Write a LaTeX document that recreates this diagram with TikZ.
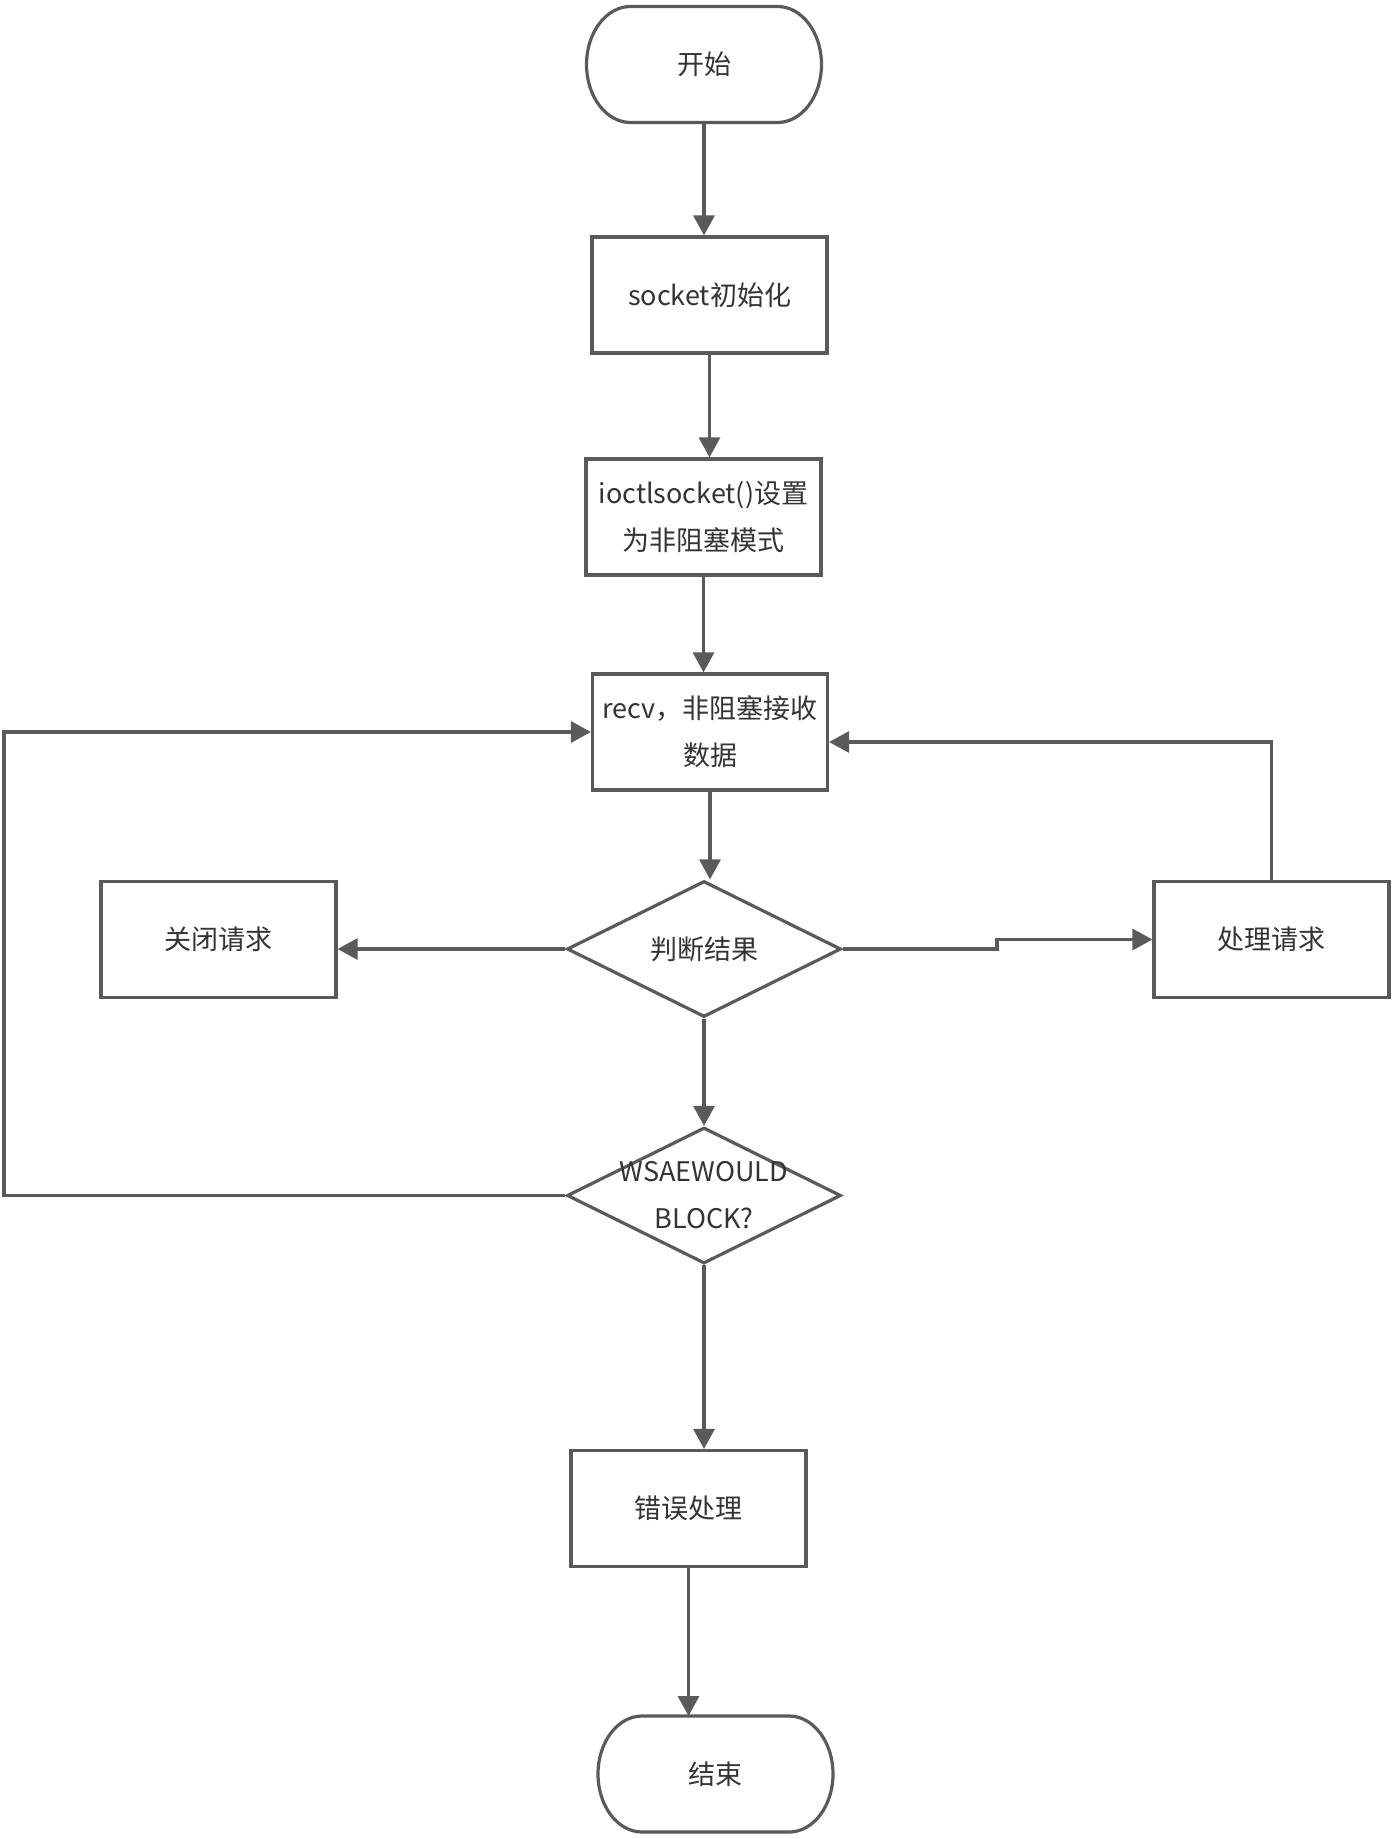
\documentclass[tikz,border=0pt]{standalone}
\usepackage{fontspec}
\setmainfont{Noto Sans CJK SC}
\usetikzlibrary{arrows.meta,shapes.geometric,calc}
\definecolor{lnc}{HTML}{5A5A5A}
\definecolor{txc}{HTML}{333333}
\newcommand\termoutline[1]{%
  \draw[line] ([xshift=22pt]#1.north west) -- ([xshift=-22pt]#1.north east)
    arc[start angle=90,end angle=-90,x radius=22pt,y radius=29pt]
    -- ([xshift=22pt]#1.south west)
    arc[start angle=270,end angle=90,x radius=22pt,y radius=29pt] -- cycle;}
\begin{document}
\begin{tikzpicture}[x=0.5pt,y=-0.5pt,
  line/.style={draw=lnc,line width=1.6pt},
  arr/.style={line,-{Triangle[width=10.5pt,length=10pt]}},
  txt/.style={text=txc,font=\fontsize{13.5pt}{23.5pt}\selectfont,align=center,inner sep=0pt},
  box/.style={rectangle,draw=lnc,line width=1.6pt,minimum width=117.5pt,minimum height=58pt,inner sep=0pt},
  diam/.style={diamond,draw=lnc,line width=1.6pt,minimum width=137pt,minimum height=68pt,inner sep=0pt},
  term/.style={rectangle,minimum width=117.5pt,minimum height=58pt,inner sep=0pt,outer sep=0pt}
]
\useasboundingbox (0,0) rectangle (1395,1839);

% terminals
\node[term,txt] (start) at (704,64.5) {开始};
\termoutline{start}
\node[term,txt] (end) at (715.5,1774) {结束};
\termoutline{end}

% process boxes
\node[box,txt] (sock) at (709.5,295) {socket初始化};
\node[box,txt] (ioctl) at (703.5,517) {ioctlsocket()设置\\为非阻塞模式};
\node[box,txt] (recv) at (710,732) {recv，非阻塞接收\\数据};
\node[box,txt] (close) at (218.5,939.5) {关闭请求};
\node[box,txt] (proc) at (1271.5,939.5) {处理请求};
\node[box,txt] (err) at (688.5,1508.5) {错误处理};

% decisions
\node[diam] (judge) at (704,949) {};
\node[txt] (judgeT) at (judge) {判断结果};
\node[diam] (wsae) at (704,1195.5) {};
\node[txt] (wsaeT) at (wsae) {WSAEWOULD\\BLOCK?};

% connectors
\draw[arr] (start.south) -- (start.south |- sock.north);
\draw[arr] (sock.south) -- (sock.south |- ioctl.north);
\draw[arr] (ioctl.south) -- (ioctl.south |- recv.north);
\draw[arr] (recv.south) -- (recv.south |- judge.north);
\draw[arr] (judge.west) -- (judge.west -| close.east);
\coordinate (s1) at (997,949);
\coordinate (s2) at (997,939.5);
\draw[arr] (judge.east) -- (s1) -- (s2) -- (s2 -| proc.west);
\coordinate (r1) at (1271.5,742);
\draw[arr] (proc.north) -- (r1) -- (r1 -| recv.east);
\draw[arr] (judge.south) -- (wsae.north);
\coordinate (l1) at (4,1195.5);
\coordinate (l2) at (4,732);
\draw[arr] (wsae.west) -- (l1) -- (l2) -- (recv.west);
\draw[arr] (wsae.south) -- (wsae.south |- err.north);
\draw[arr] (err.south) -- (err.south |- end.north);
\end{tikzpicture}
\end{document}
